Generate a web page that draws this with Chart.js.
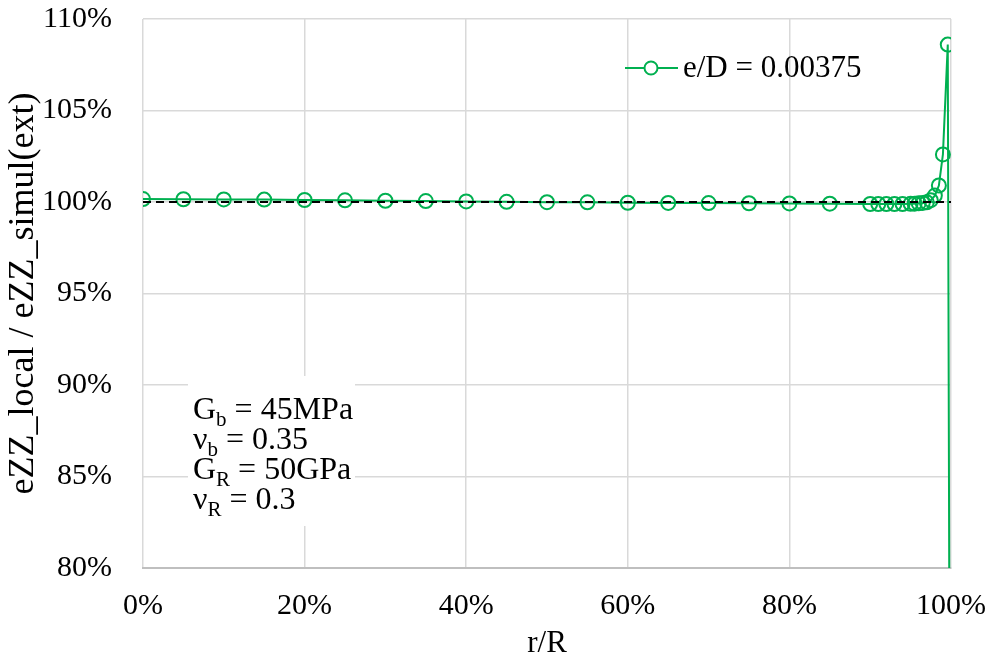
<!DOCTYPE html>
<html>
<head>
<meta charset="utf-8">
<script src="https://cdn.jsdelivr.net/npm/chart.js@4.4.1/dist/chart.umd.min.js"></script>
<style>
  body { margin: 0; background: #fff; }
  #wrap { width: 986px; height: 662px; }
</style>
</head>
<body>
<div id="wrap"><canvas id="chart" width="986" height="662"></canvas></div>
<script>
// r/R (%) 위치
const rValues = [0, 5, 10, 15, 20, 25, 30, 35, 40, 45, 50, 55, 60, 65, 70, 75, 80, 85,
                 90, 91, 92, 93, 94, 95, 95.5, 96, 96.5, 97, 97.5, 98, 98.5, 99, 99.6, 100];
// eZZ_local / eZZ_simul(ext) (%)
const ratioValues = [100.16, 100.15, 100.14, 100.13, 100.11, 100.09, 100.07, 100.05, 100.03,
                     100.01, 99.99, 99.98, 99.96, 99.95, 99.94, 99.93, 99.92, 99.91,
                     99.89, 99.89, 99.89, 99.89, 99.89, 99.90, 99.91, 99.93, 99.95, 99.98,
                     100.10, 100.35, 100.90, 102.60, 108.60, 45];
// 기준선 (100%)
const refX = [0, 100];
const refY = [100, 100];

const seriesLabel = "e/D = 0.00375";
const xTitle = "r/R";
const yTitle = "eZZ_local / eZZ_simul(ext)";
// 물성값 텍스트 (본문, 아래첨자, 나머지)
const noteLines = [
    ["G", "b", " = 45MPa"],
    ["\u03bd", "b", " = 0.35"],
    ["G", "R", " = 50GPa"],
    ["\u03bd", "R", " = 0.3"]
];

const green = "#00b050";
const font = "'Liberation Serif', 'Times New Roman', serif";

// 범례 + 텍스트 상자 그리기
const overlayPlugin = {
    id: "overlay",
    beforeDatasetsDraw(chart) {
        const c = chart.ctx;
        c.save();
        // 텍스트 상자 (흰 배경)
        c.fillStyle = "#fff";
        c.fillRect(188, 376, 167, 150);
        c.fillStyle = "#000";
        c.textBaseline = "alphabetic";
        for (let i = 0; i < noteLines.length; i++) {
            const y = 419 + i * 30;
            let x = 193;
            c.font = "32px " + font;
            c.fillText(noteLines[i][0], x, y);
            x += c.measureText(noteLines[i][0]).width;
            c.font = "21px " + font;
            c.fillText(noteLines[i][1], x, y + 7);
            x += c.measureText(noteLines[i][1]).width;
            c.font = "32px " + font;
            c.fillText(noteLines[i][2], x, y);
        }
        c.restore();
    },
    afterDraw(chart) {
        const c = chart.ctx;
        c.save();
        // 범례
        c.strokeStyle = green;
        c.lineWidth = 2;
        c.beginPath();
        c.moveTo(625, 68);
        c.lineTo(678, 68);
        c.stroke();
        c.beginPath();
        c.arc(651, 68, 6.5, 0, Math.PI * 2);
        c.fillStyle = "#fff";
        c.fill();
        c.stroke();
        c.fillStyle = "#000";
        c.font = "31px " + font;
        c.textBaseline = "middle";
        c.fillText(seriesLabel, 683, 69);
        c.restore();
    }
};

new Chart(document.getElementById("chart"), {
    type: "scatter",
    data: {
        datasets: [
            {
                label: seriesLabel,
                data: rValues.map((r, i) => ({ x: r, y: ratioValues[i] })),
                showLine: true,
                borderColor: green,
                borderWidth: 2,
                pointRadius: 7,
                pointBorderWidth: 2,
                pointBorderColor: green,
                pointBackgroundColor: "rgba(255,255,255,0)",
                order: 1
            },
            {
                label: "ref",
                data: refX.map((r, i) => ({ x: r, y: refY[i] })),
                showLine: true,
                borderColor: "#000",
                borderWidth: 2,
                borderDash: [8, 5],
                pointRadius: 0,
                order: 0
            }
        ]
    },
    options: {
        responsive: false,
        animation: false,
        layout: { autoPadding: false, padding: { left: 0, right: 35, top: 19, bottom: 0 } },
        plugins: { legend: { display: false }, tooltip: { enabled: false } },
        scales: {
            x: {
                type: "linear",
                min: 0, max: 100,
                afterFit: s => { s.height = 94; s.paddingLeft = 0; s.paddingRight = 0; },
                grid: { color: "#d9d9d9", lineWidth: 1.5, drawTicks: false },
                border: { color: "#bfbfbf", width: 2 },
                ticks: {
                    stepSize: 20, padding: 20, color: "#000",
                    font: { family: font, size: 30 },
                    callback: v => v + "%"
                },
                title: {
                    display: true, text: xTitle, color: "#000",
                    font: { family: font, size: 31 },
                    padding: { top: 0, bottom: 0 }
                }
            },
            y: {
                min: 80, max: 110,
                afterFit: s => { s.width = 143; s.paddingTop = 0; s.paddingBottom = 0; },
                grid: { color: "#d9d9d9", lineWidth: 1.5, drawTicks: false },
                border: { display: false },
                ticks: {
                    stepSize: 5, padding: 31, color: "#000",
                    font: { family: font, size: 30 },
                    callback: v => v + "%"
                },
                title: {
                    display: true, text: yTitle, color: "#000",
                    font: { family: font, size: 36 },
                    padding: { top: 2, bottom: 0 }
                }
            }
        }
    },
    plugins: [overlayPlugin]
});
</script>
</body>
</html>
